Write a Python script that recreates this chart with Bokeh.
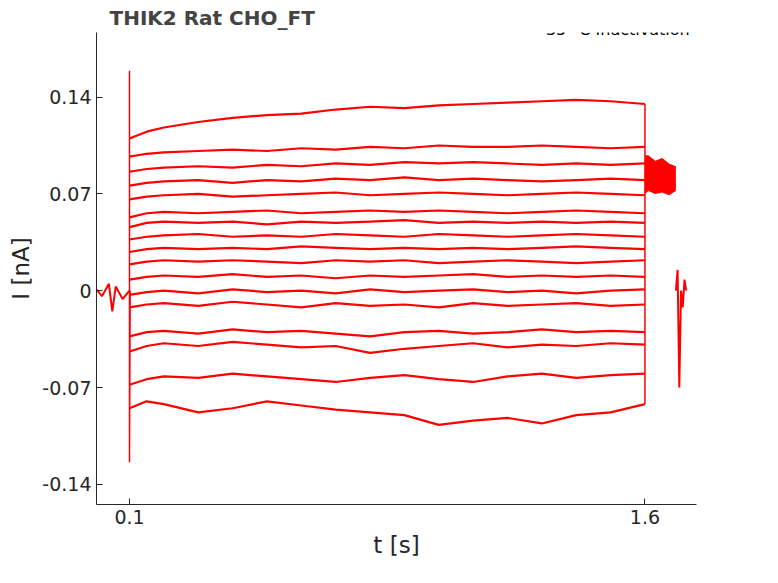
from bokeh.plotting import figure
from bokeh.embed import file_html
from bokeh.resources import INLINE
from bokeh.models import Range1d, FixedTicker, Label

# time grid during the step (s)
step_t = [0.1, 0.15, 0.2, 0.3, 0.4, 0.5, 0.6, 0.7, 0.8, 0.9, 1.0, 1.1, 1.2, 1.3, 1.4, 1.5, 1.6]
# current traces during step (nA), top to bottom
tr01 = [0.110, 0.115, 0.118, 0.122, 0.125, 0.127, 0.128, 0.131, 0.133, 0.132, 0.134, 0.135, 0.136, 0.137, 0.138, 0.137, 0.135]
tr02 = [0.097, 0.099, 0.100, 0.101, 0.102, 0.101, 0.103, 0.102, 0.104, 0.103, 0.105, 0.104, 0.104, 0.105, 0.104, 0.103, 0.104]
tr03 = [0.086, 0.088, 0.089, 0.090, 0.089, 0.091, 0.090, 0.092, 0.091, 0.093, 0.092, 0.093, 0.092, 0.091, 0.092, 0.091, 0.092]
tr04 = [0.076, 0.078, 0.079, 0.080, 0.078, 0.080, 0.079, 0.081, 0.080, 0.082, 0.080, 0.081, 0.080, 0.079, 0.080, 0.081, 0.080]
tr05 = [0.066, 0.068, 0.069, 0.070, 0.068, 0.069, 0.070, 0.071, 0.069, 0.070, 0.071, 0.070, 0.069, 0.070, 0.071, 0.070, 0.069]
tr06 = [0.053, 0.056, 0.057, 0.056, 0.057, 0.058, 0.056, 0.057, 0.058, 0.057, 0.058, 0.057, 0.056, 0.057, 0.058, 0.057, 0.056]
tr07 = [0.046, 0.049, 0.050, 0.049, 0.050, 0.048, 0.050, 0.049, 0.050, 0.051, 0.049, 0.050, 0.049, 0.050, 0.049, 0.050, 0.049]
tr08 = [0.037, 0.039, 0.040, 0.041, 0.039, 0.040, 0.039, 0.041, 0.040, 0.039, 0.041, 0.040, 0.039, 0.040, 0.041, 0.040, 0.039]
tr09 = [0.028, 0.030, 0.031, 0.030, 0.031, 0.030, 0.032, 0.031, 0.030, 0.031, 0.030, 0.031, 0.030, 0.031, 0.032, 0.031, 0.030]
tr10 = [0.019, 0.021, 0.022, 0.021, 0.022, 0.021, 0.020, 0.022, 0.021, 0.022, 0.020, 0.021, 0.022, 0.021, 0.020, 0.021, 0.022]
tr11 = [0.008, 0.010, 0.011, 0.010, 0.012, 0.010, 0.011, 0.009, 0.011, 0.010, 0.011, 0.012, 0.010, 0.011, 0.010, 0.011, 0.010]
tr12 = [-0.003, -0.001, 0.000, -0.002, 0.001, -0.001, 0.000, -0.002, 0.001, -0.001, 0.000, 0.001, -0.001, 0.000, -0.002, 0.000, 0.001]
tr13 = [-0.012, -0.010, -0.009, -0.011, -0.008, -0.010, -0.012, -0.009, -0.011, -0.010, -0.012, -0.009, -0.011, -0.010, -0.009, -0.011, -0.010]
tr14 = [-0.033, -0.030, -0.029, -0.031, -0.028, -0.030, -0.029, -0.031, -0.033, -0.030, -0.029, -0.031, -0.030, -0.028, -0.030, -0.029, -0.030]
tr15 = [-0.044, -0.040, -0.038, -0.040, -0.037, -0.039, -0.041, -0.040, -0.045, -0.042, -0.040, -0.038, -0.041, -0.039, -0.040, -0.038, -0.039]
tr16 = [-0.068, -0.064, -0.062, -0.063, -0.060, -0.062, -0.064, -0.066, -0.063, -0.061, -0.064, -0.066, -0.062, -0.060, -0.063, -0.061, -0.060]
tr17 = [-0.085, -0.080, -0.082, -0.088, -0.085, -0.080, -0.083, -0.086, -0.088, -0.090, -0.097, -0.094, -0.092, -0.096, -0.090, -0.088, -0.082]
traces = [tr01, tr02, tr03, tr04, tr05, tr06, tr07, tr08, tr09, tr10, tr11, tr12, tr13, tr14, tr15, tr16, tr17]

pre_t = [0.0, 0.02, 0.04, 0.05, 0.06, 0.08, 0.1]
pre_i = [0.002, -0.004, 0.005, -0.015, 0.003, -0.006, 0.0]
spike_t = [0.1, 0.1, 0.1, 0.102]
spike_i = [0.0, 0.159, -0.124, 0.0]
tail_t = [1.6, 1.61, 1.63, 1.65, 1.67, 1.69]
tail_lo = [0.070, 0.072, 0.070, 0.071, 0.069, 0.072]
tail_hi = [0.098, 0.098, 0.094, 0.096, 0.092, 0.090]
end_t = [1.69, 1.695, 1.70, 1.705, 1.71, 1.715, 1.72]
end_i = [0.0, 0.015, -0.07, 0.0, -0.012, 0.008, 0.0]

p = figure(width=762, height=567, output_backend="svg", toolbar_location=None,
           x_range=Range1d(0.004, 1.75), y_range=Range1d(-0.1546, 0.1867),
           min_border_left=96, min_border_right=66, min_border_bottom=63,
           title="THIK2  Rat  CHO_FT")
p.title.text_font = "DejaVu Sans"
p.title.text_font_size = "20px"
p.title.text_font_style = "bold"
p.title.offset = 13
p.title.standoff = 6
p.outline_line_color = None
p.grid.visible = False

red = "#ff0000"
p.line(pre_t, pre_i, color=red, line_width=2)
p.line(spike_t, spike_i, color=red, line_width=1.5)
for tr in traces:
    p.line(step_t, tr, color=red, line_width=2.2)
p.varea(x=tail_t, y1=tail_lo, y2=tail_hi, color=red)
p.line(end_t, end_i, color=red, line_width=2)
p.line([1.6, 1.6], [tr17[-1], tr01[-1]], color=red, line_width=1.5)

p.xaxis.ticker = FixedTicker(ticks=[0.1, 1.6])
p.xaxis.major_label_overrides = {0.1: "0.1", 1.6: "1.6"}
p.yaxis.ticker = FixedTicker(ticks=[-0.14, -0.07, 0, 0.07, 0.14])
p.yaxis.major_label_overrides = {-0.14: "-0.14", -0.07: "-0.07", 0: "0", 0.07: "0.07", 0.14: "0.14"}
for ax in (p.xaxis[0], p.yaxis[0]):
    ax.major_label_text_font = "DejaVu Sans"
    ax.major_label_text_font_size = "19px"
    ax.major_label_text_color = "#262626"
    ax.axis_label_text_font = "DejaVu Sans"
    ax.axis_label_text_font_size = "23px"
    ax.axis_label_text_font_style = "normal"
    ax.axis_label_text_color = "#262626"
    ax.axis_line_color = "#262626"
    ax.major_tick_line_color = "#262626"
    ax.major_tick_in = 6
    ax.major_tick_out = 0
    ax.minor_tick_line_color = None
p.xaxis.axis_label = "t [s]"
p.yaxis.axis_label = "I [nA]"

p.add_layout(Label(x=1.745, y=0.189, text="35 °C  Inactivation", text_align="right",
                   text_baseline="middle", text_font="DejaVu Sans",
                   text_font_size="16px", text_color="black"))
p.add_layout(Label(x=1.785, y=0.0168, text="BBP Channelpedia ID 31561 rep 1", angle=1.5708,
                   text_align="center", text_baseline="middle", text_font="DejaVu Sans",
                   text_font_size="12px", text_color="black"))

open("out.html", "w").write(file_html(p, INLINE))
